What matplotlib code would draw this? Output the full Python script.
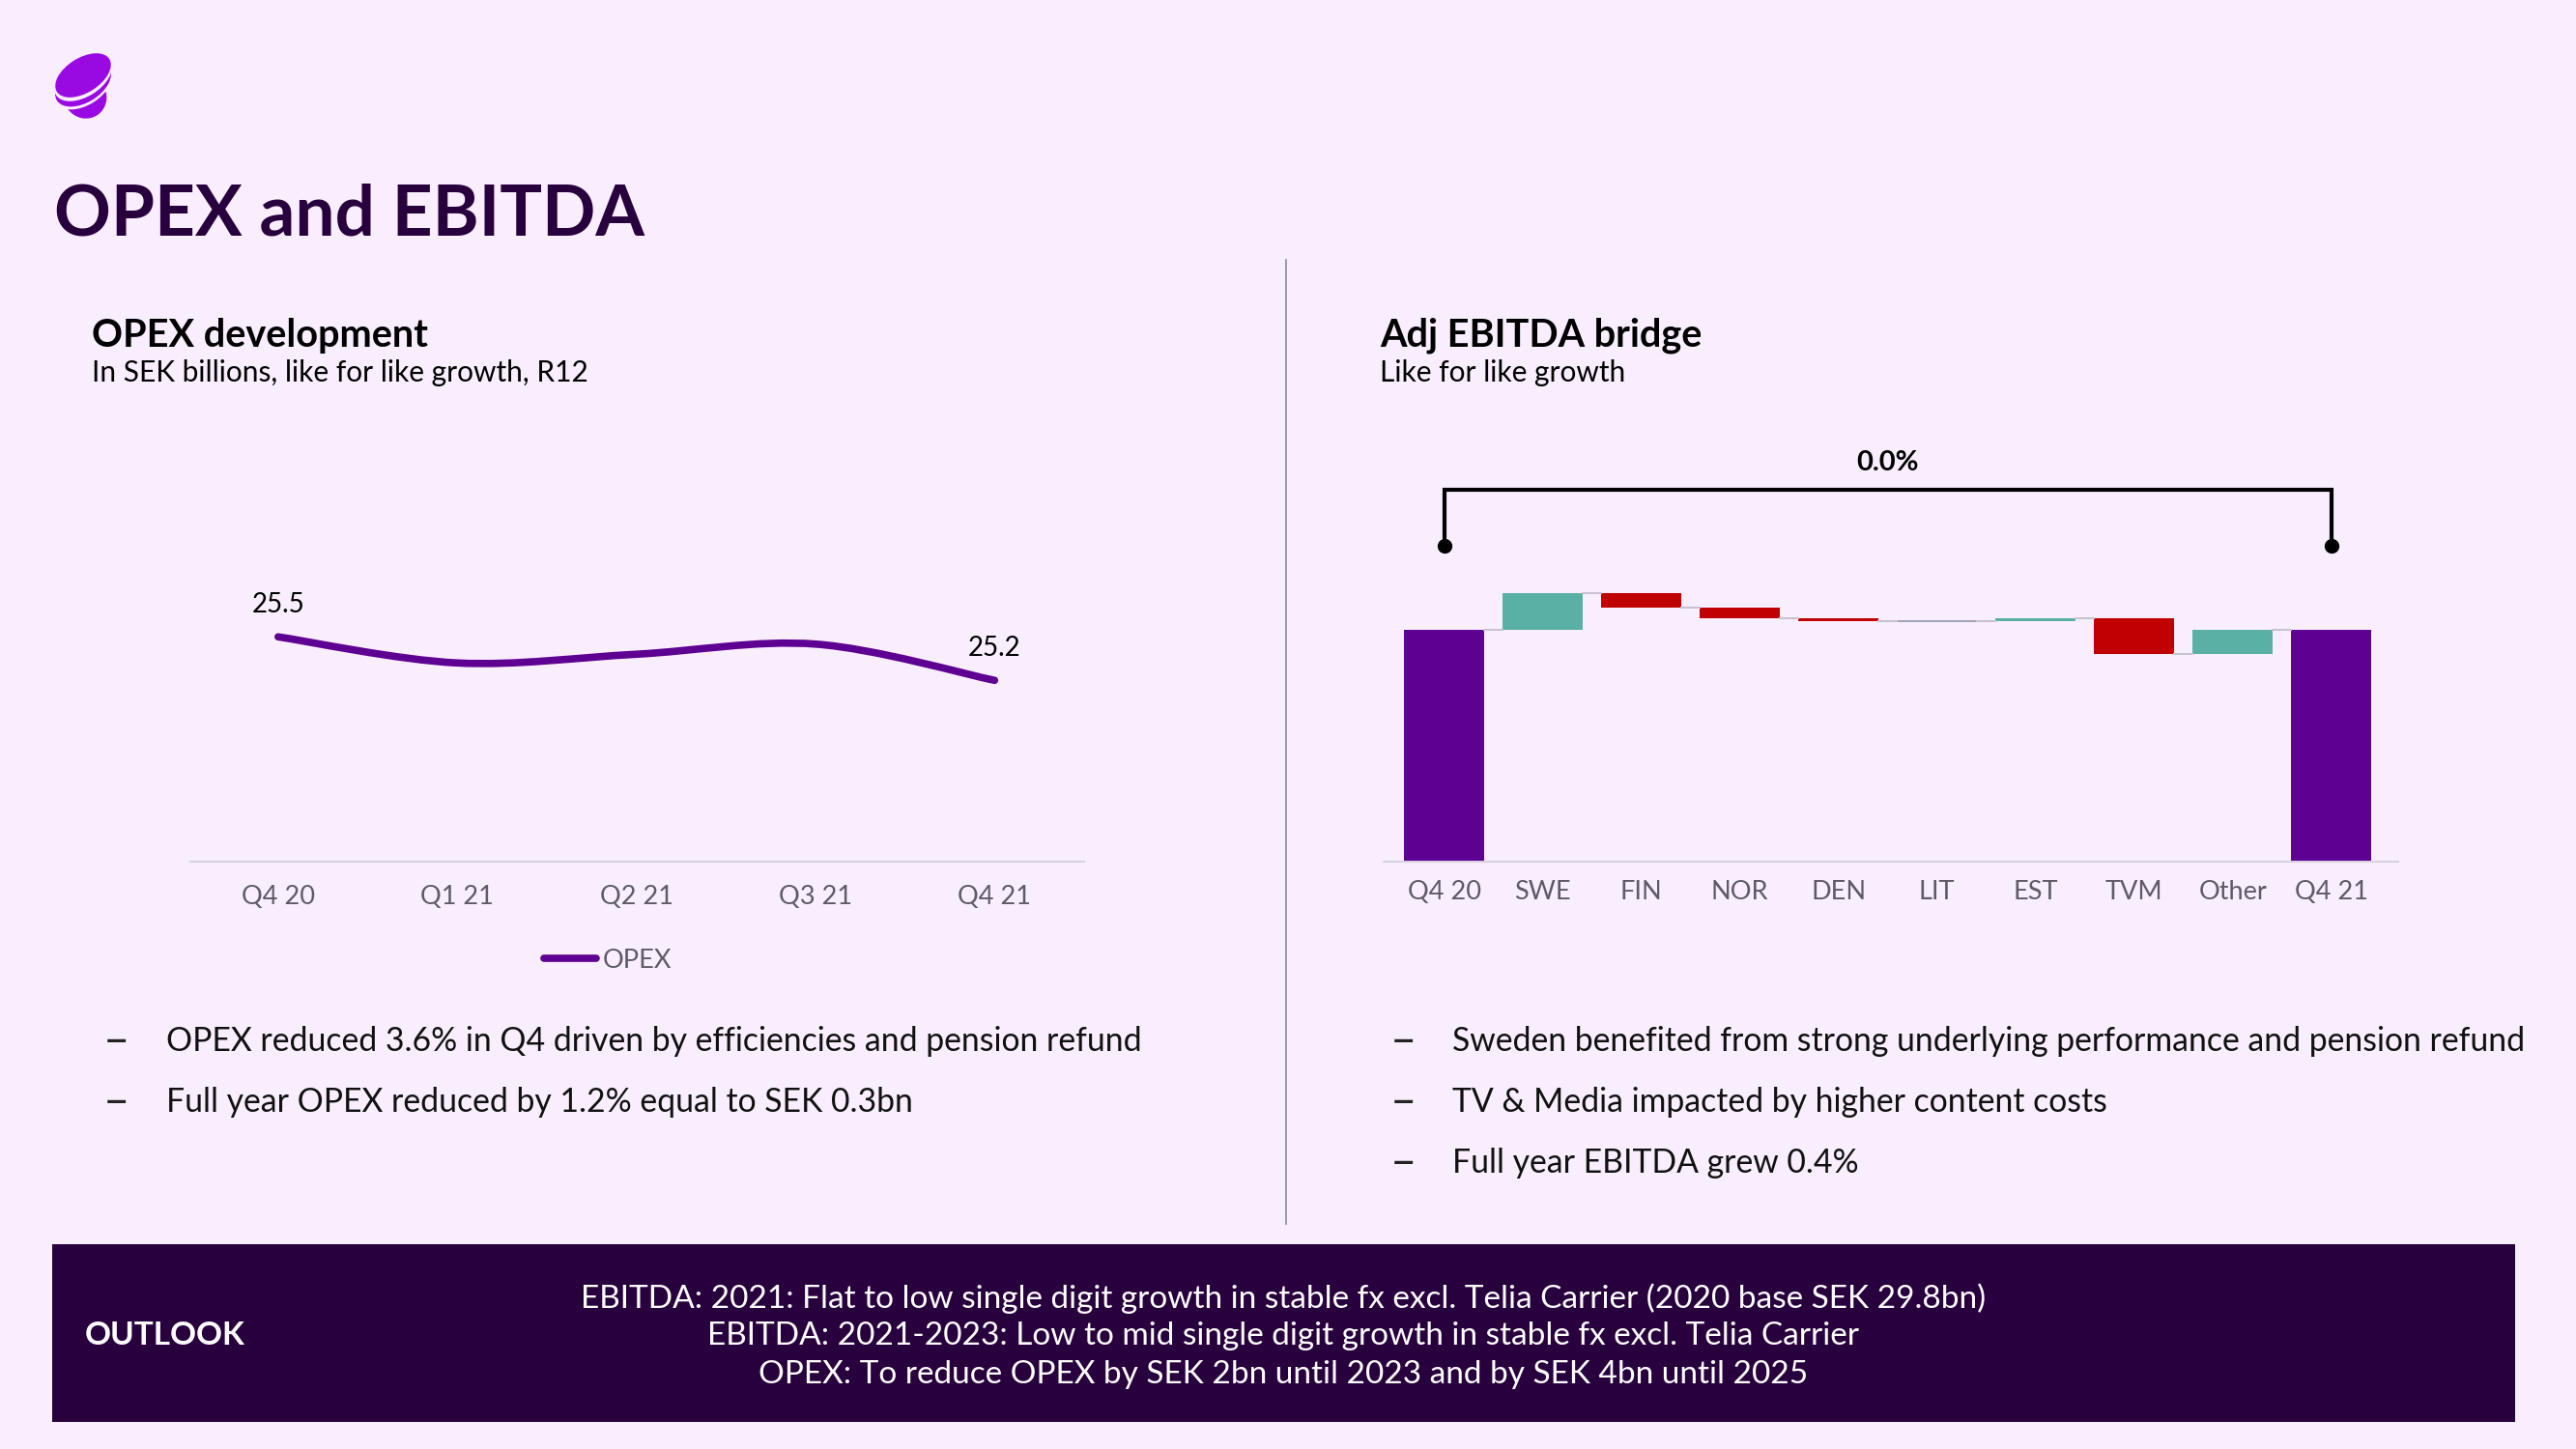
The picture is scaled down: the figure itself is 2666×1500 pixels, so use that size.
import matplotlib
matplotlib.use("Agg")
import matplotlib.pyplot as plt
from matplotlib.path import Path
from matplotlib.patches import PathPatch, Rectangle, Ellipse
from matplotlib.lines import Line2D

#--------------------- DATA -------------------#
opex_quarters = ["Q4 20", "Q1 21", "Q2 21", "Q3 21", "Q4 21"]
opex_values = [25.5, 25.32, 25.38, 25.45, 25.2]
opex_labels = {0: "25.5", 4: "25.2"}

bridge_labels = ["Q4 20", "SWE", "FIN", "NOR", "DEN", "LIT", "EST", "TVM", "Other", "Q4 21"]
bridge_values = [7000, 160, -64, -42, -14, 0, 12, -153, 101, 7000]
bridge_growth = "0.0%"

left_bullets = ["OPEX reduced 3.6% in Q4 driven by efficiencies and pension refund",
                "Full year OPEX reduced by 1.2% equal to SEK 0.3bn"]
right_bullets = ["Sweden benefited from strong underlying performance and pension refund",
                 "TV & Media impacted by higher content costs",
                 "Full year EBITDA grew 0.4%"]
outlook_lines = ["EBITDA: 2021: Flat to low single digit growth in stable fx excl. Telia Carrier (2020 base SEK 29.8bn)",
                 "EBITDA: 2021-2023: Low to mid single digit growth in stable fx excl. Telia Carrier",
                 "OPEX: To reduce OPEX by SEK 2bn until 2023 and by SEK 4bn until 2025"]

#--------------------- STYLE -------------------#
plt.rcParams['font.family'] = ['Lato', 'DejaVu Sans']
BG = "#F9EEFE"
PURPLE = "#5E0092"
DEEP = "#29003E"
TEAL = "#5BB0A6"
RED = "#C00000"
GREY_TXT = "#5F5A66"
AXIS_C = "#D9D2DE"
LOGO_C = "#990AE3"

W, H = 2666, 1500
fig = plt.figure(figsize=(W / 100, H / 100), dpi=100, facecolor=BG)


def fx(px):
    return px / W


def fy(py):
    return 1 - py / H


# logo (layered ellipses, pixel coords)
lg = fig.add_axes([fx(48), fy(128), fx(80), 80 / H])
lg.set_xlim(48, 128)
lg.set_ylim(128, 48)
lg.axis("off")
logo = [(LOGO_C, (88, 100), 44, 46, -35), (BG, (86, 89), 66, 40, -32), (LOGO_C, (86, 87), 64, 38, -32),
        (BG, (86, 81), 66, 38, -32), (LOGO_C, (86, 78), 64, 36, -32)]
for c, xy, w, h, a in logo:
    lg.add_patch(Ellipse(xy, w, h, angle=a, color=c, lw=0))

fig.text(fx(56), fy(223), "OPEX and EBITDA", fontsize=52.5, fontweight="bold", color=DEEP, va="center")

# section headings
for x0, t, s in [(95, "OPEX development", "In SEK billions, like for like growth, R12"),
                 (1428, "Adj EBITDA bridge", "Like for like growth")]:
    fig.text(fx(x0), fy(347), t, fontsize=28.5, fontweight="bold", color="black", va="center")
    fig.text(fx(x0), fy(386), s, fontsize=21.5, color="black", va="center")

fig.add_artist(Line2D([fx(1331), fx(1331)], [fy(269), fy(1267)], color="#8E8A92", lw=1.2))

#--------------------- OPEX line -------------------#
ax1 = fig.add_axes([fx(197), fy(892), fx(925), 452 / H])
ax1.set_facecolor("none")
x = list(range(len(opex_values)))
pts = list(zip(x, opex_values))
# smooth curve through the points (cubic bezier segments)
verts = [pts[0]]
codes = [Path.MOVETO]
for i in range(len(pts) - 1):
    p0 = pts[max(i - 1, 0)]
    p1 = pts[i]
    p2 = pts[i + 1]
    p3 = pts[min(i + 2, len(pts) - 1)]
    c1 = (p1[0] + (p2[0] - p0[0]) / 6, p1[1] + (p2[1] - p0[1]) / 6)
    c2 = (p2[0] - (p3[0] - p1[0]) / 6, p2[1] - (p3[1] - p1[1]) / 6)
    verts += [c1, c2, p2]
    codes += [Path.CURVE4] * 3
ax1.add_patch(PathPatch(Path(verts, codes), fill=False, edgecolor=PURPLE, lw=5.5, capstyle="round"))
for i, lab in opex_labels.items():
    ax1.annotate(lab, (i, opex_values[i]), xytext=(0, 24), textcoords="offset points",
                 ha="center", va="center", fontsize=20, color="black")
ax1.set_xlim(-0.49, 4.5)
ax1.set_ylim(23.95, 26.96)
ax1.set_xticks(x)
ax1.set_xticklabels(opex_quarters)
ax1.tick_params(axis="x", length=0, pad=17, labelsize=19.5, labelcolor=GREY_TXT)
ax1.set_yticks([])
for sp in ["top", "left", "right"]:
    ax1.spines[sp].set_visible(False)
ax1.spines["bottom"].set_color(AXIS_C)
ax1.spines["bottom"].set_linewidth(1.5)
ax1.legend([Line2D([0], [0], color=PURPLE, lw=5.5, solid_capstyle="round")], ["OPEX"],
           loc="center", bbox_to_anchor=(fx(629), fy(994)), bbox_transform=fig.transFigure,
           frameon=False, fontsize=19.5, labelcolor=GREY_TXT, handlelength=2.0, handletextpad=0.25)

#--------------------- EBITDA bridge -------------------#
ax2 = fig.add_axes([fx(1432), fy(892), fx(1050), 452 / H])
ax2.set_facecolor("none")
base = 6000
bw = 0.82
level = 0
peak = 0
n = len(bridge_values)
for i, v in enumerate(bridge_values):
    if i in (0, n - 1):
        ax2.bar(i, v - base, bottom=base, width=bw, color=PURPLE, lw=0)
        level = v
    elif v == 0:
        ax2.bar(i, 0, bottom=level, width=bw, facecolor="none", edgecolor="#8C94A8", lw=1.2)
    else:
        bottom = level if v >= 0 else level + v
        ax2.bar(i, abs(v), bottom=bottom, width=bw, color=TEAL if v > 0 else RED, lw=0)
        level += v
    peak = max(peak, level)
    if i < n - 1:
        ax2.plot([i + bw / 2, i + 1 - bw / 2], [level, level], color="#C9C2CE", lw=1.5)

dot_y = peak + 205
br_y = peak + 448
ax2.plot([0, 0, n - 1, n - 1], [dot_y, br_y, br_y, dot_y], color="black", lw=3, solid_joinstyle="miter")
ax2.plot([0, n - 1], [dot_y, dot_y], "o", color="black", ms=10)
ax2.text((n - 1) / 2, br_y + 115, bridge_growth, ha="center", va="center", fontsize=21, fontweight="bold")

ax2.set_xlim(-0.614, 9.68)
ax2.set_ylim(base, 7887)
ax2.set_xticks(range(n))
ax2.set_xticklabels(bridge_labels)
ax2.tick_params(axis="x", length=0, pad=14, labelsize=19.5, labelcolor=GREY_TXT)
ax2.set_yticks([])
for sp in ["top", "left", "right"]:
    ax2.spines[sp].set_visible(False)
ax2.spines["bottom"].set_color(AXIS_C)
ax2.spines["bottom"].set_linewidth(1.5)

#--------------------- bullets -------------------#
for k, t in enumerate(left_bullets):
    y = fy(1078 + 63 * k)
    fig.text(fx(120), y, "–", fontsize=34, va="center", ha="center", color="#222222")
    fig.text(fx(172), y, t, fontsize=24.3, va="center", color="#111111")
for k, t in enumerate(right_bullets):
    y = fy(1078 + 63 * k)
    fig.text(fx(1452), y, "–", fontsize=34, va="center", ha="center", color="#222222")
    fig.text(fx(1503), y, t, fontsize=24.3, va="center", color="#111111")

#--------------------- outlook box -------------------#
fig.add_artist(Rectangle((fx(54), fy(1472)), fx(2603 - 54), 184 / H, transform=fig.transFigure,
                         facecolor=DEEP, edgecolor="none"))
fig.text(fx(88), fy(1382), "OUTLOOK", fontsize=24, fontweight="bold", color="white", va="center")
for k, t in enumerate(outlook_lines):
    fig.text(fx(1328), fy(1344 + 39.5 * k), t, fontsize=24, color="white", ha="center", va="center")

fig.savefig("out.png", dpi=100, facecolor=BG)
